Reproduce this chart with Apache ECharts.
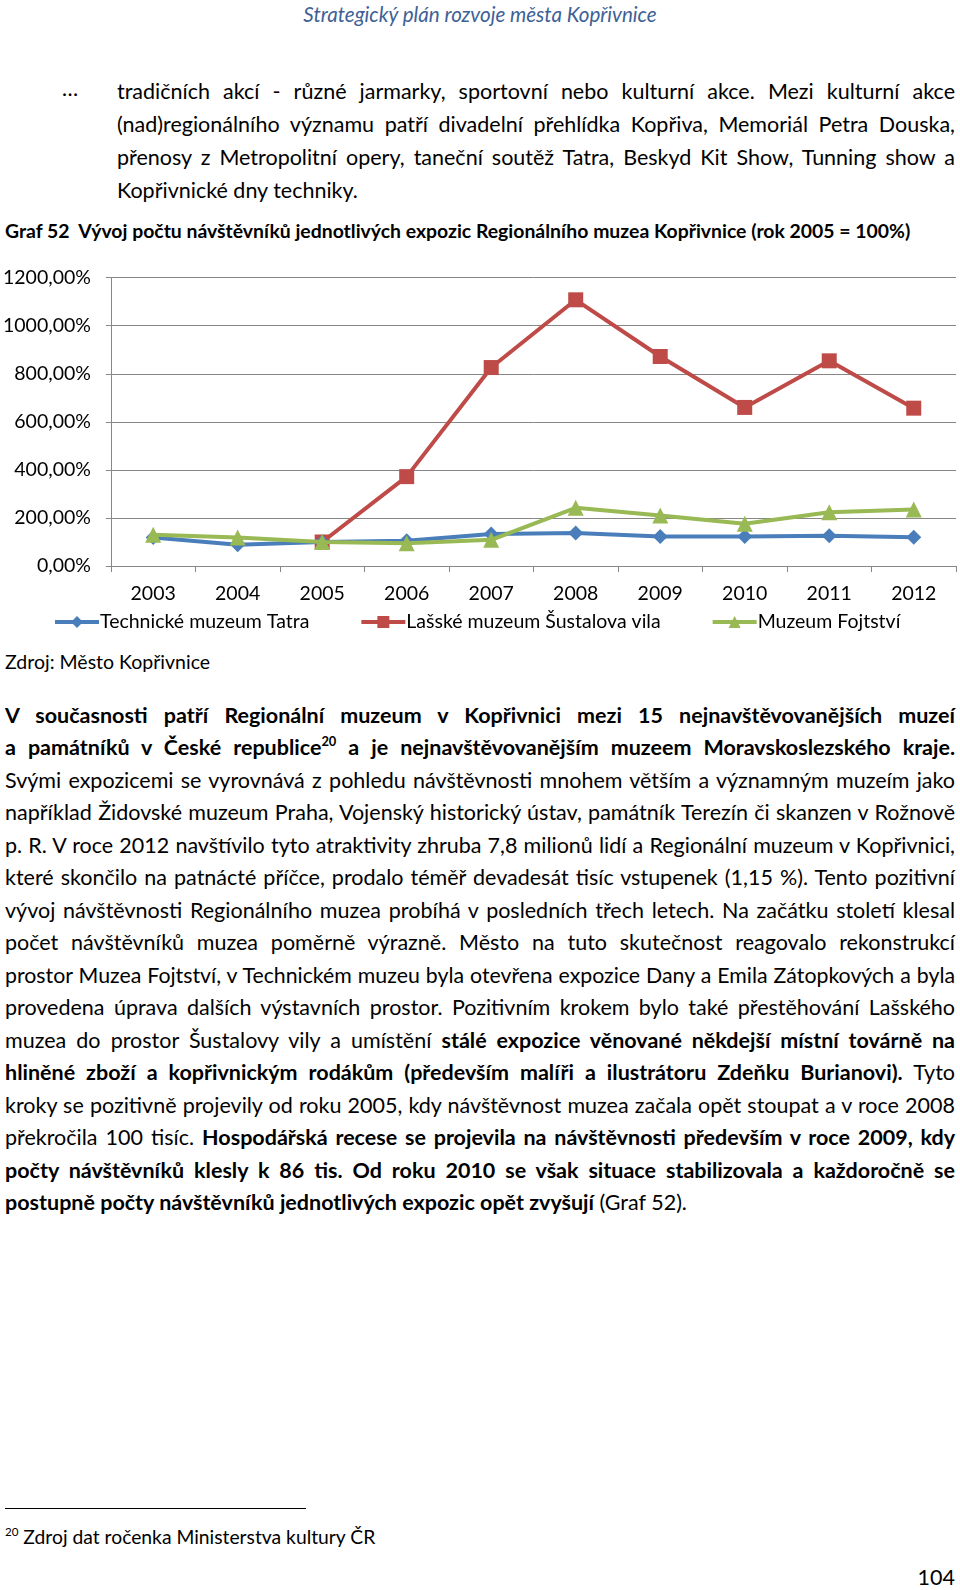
<!DOCTYPE html>
<html><head><meta charset="utf-8">
<script src="https://cdn.jsdelivr.net/npm/echarts@6/dist/echarts.min.js"></script>
<style>
html,body{margin:0;padding:0;background:#fff;}
body{width:960px;height:1590px;position:relative;overflow:hidden;font-family:Lato,"Noto Sans",sans-serif;color:#000;}
.ln{position:absolute;left:5px;width:950px;line-height:32px;font-size:21.5px;text-align:justify;text-align-last:justify;}
.ln.last{text-align:left;text-align-last:left;}
.ln b{font-weight:700;}
.abs{position:absolute;white-space:nowrap;}
sup{font-size:0.6em;line-height:0;vertical-align:0.7em;}
#chart{position:absolute;left:0;top:250px;width:960px;height:400px;}
</style></head>
<body>
<div class="abs" id="hdr" style="left:0;width:960px;text-align:center;top:2px;font-size:20.6px;font-style:italic;color:#3d6196;">Strategický plán rozvoje města Kopřivnice</div>
<div class="abs" style="left:62px;top:75px;font-size:21.5px;">…</div>
<div id="p1"></div>
<div class="abs" id="cap" style="left:5px;top:219px;font-size:19.4px;font-weight:700;">Graf 52&nbsp; Vývoj počtu návštěvníků jednotlivých expozic Regionálního muzea Kopřivnice (rok 2005 = 100%)</div>
<div id="chart"></div>
<div class="abs" style="left:5px;top:650px;font-size:19.5px;">Zdroj: Město Kopřivnice</div>
<div id="p2"></div>
<div style="position:absolute;left:5px;top:1508px;width:301px;height:1px;background:#000;"></div>
<div class="abs" style="left:5px;top:1525px;font-size:19.3px;"><sup>20</sup> Zdroj dat ročenka Ministerstva kultury ČR</div>
<div class="abs" style="left:900px;width:55px;text-align:right;top:1564px;font-size:21.5px;">104</div>
<script>
// ---- chart data ----
const years = ['2003','2004','2005','2006','2007','2008','2009','2010','2011','2012'];
const tatra = [119, 88, 100, 105, 133, 137, 123, 123, 126, 120];
const lasske = [null, null, 100, 372, 826, 1108, 872, 660, 854, 657];
const fojtstvi = [130, 119, 100, 95, 109, 242, 210, 176, 224, 235];
const seriesNames = ['Technické muzeum Tatra', 'Lašské muzeum Šustalova vila', 'Muzeum Fojtství'];
const yMin = 0, yMax = 1200, yStep = 200;

// ---- text ----
const para1 = [
  'tradičních akcí - různé jarmarky, sportovní nebo kulturní akce. Mezi kulturní akce',
  '(nad)regionálního významu patří divadelní přehlídka Kopřiva, Memoriál Petra Douska,',
  'přenosy z Metropolitní opery, taneční soutěž Tatra, Beskyd Kit Show, Tunning show a',
  'Kopřivnické dny techniky.'
];
const para2 = [
  '<b>V současnosti patří Regionální muzeum v Kopřivnici mezi 15 nejnavštěvovanějších muzeí</b>',
  '<b>a památníků v České republice<sup>20</sup> a je nejnavštěvovanějším muzeem Moravskoslezského kraje.</b>',
  'Svými expozicemi se vyrovnává z pohledu návštěvnosti mnohem větším a významným muzeím jako',
  'například Židovské muzeum Praha, Vojenský historický ústav, památník Terezín či skanzen v Rožnově',
  'p. R. V roce 2012 navštívilo tyto atraktivity zhruba 7,8 milionů lidí a Regionální muzeum v Kopřivnici,',
  'které skončilo na patnácté příčce, prodalo téměř devadesát tisíc vstupenek (1,15 %). Tento pozitivní',
  'vývoj návštěvnosti Regionálního muzea probíhá v posledních třech letech. Na začátku století klesal',
  'počet návštěvníků muzea poměrně výrazně. Město na tuto skutečnost reagovalo rekonstrukcí',
  'prostor Muzea Fojtství, v Technickém muzeu byla otevřena expozice Dany a Emila Zátopkových a byla',
  'provedena úprava dalších výstavních prostor. Pozitivním krokem bylo také přestěhování Lašského',
  'muzea do prostor Šustalovy vily a umístění <b>stálé expozice věnované někdejší místní továrně na</b>',
  '<b>hliněné zboží a kopřivnickým rodákům (především malíři a ilustrátoru Zdeňku Burianovi).</b> Tyto',
  'kroky se pozitivně projevily od roku 2005, kdy návštěvnost muzea začala opět stoupat a v roce 2008',
  'překročila 100 tisíc. <b>Hospodářská recese se projevila na návštěvnosti především v roce 2009, kdy</b>',
  '<b>počty návštěvníků klesly k 86 tis. Od roku 2010 se však situace stabilizovala a každoročně se</b>',
  '<b>postupně počty návštěvníků jednotlivých expozic opět zvyšují</b> (Graf 52).'
];

function buildPara(host, lines, left, width, firstCenter, step) {
  lines.forEach((t, i) => {
    const d = document.createElement('div');
    d.className = 'ln' + (i === lines.length - 1 ? ' last' : '');
    d.style.left = left + 'px';
    d.style.width = width + 'px';
    d.style.top = (firstCenter + i * step - 16) + 'px';
    d.innerHTML = t;
    host.appendChild(d);
  });
}
buildPara(document.getElementById('p1'), para1, 117, 838, 91.2, 32.8);
buildPara(document.getElementById('p2'), para2, 5, 950, 714.7, 32.5);

function fitLines() {
  document.querySelectorAll('.ln').forEach(el => {
    let fs = parseFloat(getComputedStyle(el).fontSize);
    let guard = 0;
    while (el.offsetHeight > 40 && guard < 60) {
      fs -= 0.2; el.style.fontSize = fs + 'px'; guard++;
    }
  });
}

function drawChart() {
  const chart = echarts.init(document.getElementById('chart'), null, {renderer: 'canvas'});
  const font = 'Lato';
  const gridC = '#878787';
  chart.setOption({
    animation: false,
    textStyle: {fontFamily: font},
    grid: {left: 110, right: 4, top: 27.7, bottom: 84, containLabel: false},
    legend: {
      data: seriesNames, left: 53, top: 362, padding: 0, itemGap: 50, itemWidth: 44, itemHeight: 15,
      lineStyle: {width: 4},
      textStyle: {fontSize: 19.5, color: '#000', fontFamily: font, padding: [0, 0, 0, -4]}
    },
    xAxis: {
      type: 'category', data: years, boundaryGap: true,
      axisLine: {lineStyle: {color: gridC, width: 1}},
      axisTick: {show: true, length: 6, alignWithLabel: false, lineStyle: {color: gridC}},
      axisLabel: {color: '#000', fontSize: 19.5, margin: 18, fontFamily: font}
    },
    yAxis: {
      type: 'value', min: yMin, max: yMax, interval: yStep,
      axisLine: {show: true, lineStyle: {color: gridC, width: 1}},
      axisTick: {show: true, length: 5, lineStyle: {color: gridC}},
      splitLine: {lineStyle: {color: gridC, width: 1}},
      axisLabel: {color: '#000', fontSize: 19.5, margin: 20, fontFamily: font,
        formatter: v => v.toFixed(2).replace('.', ',') + '%'}
    },
    series: [
      {name: seriesNames[0], type: 'line', data: tatra, symbol: 'diamond', symbolSize: 15,
       lineStyle: {width: 4, color: '#4A7EBB'}, itemStyle: {color: '#4A7EBB'}, z: 3},
      {name: seriesNames[1], type: 'line', data: lasske, symbol: 'rect', symbolSize: 15, connectNulls: false,
       lineStyle: {width: 4, color: '#BE4B48'}, itemStyle: {color: '#BE4B48'}, z: 2},
      {name: seriesNames[2], type: 'line', data: fojtstvi, symbol: 'triangle', symbolSize: 16,
       lineStyle: {width: 4, color: '#98B954'}, itemStyle: {color: '#98B954'}, z: 4}
    ]
  });
}

(document.fonts && document.fonts.ready ? document.fonts.ready : Promise.resolve()).then(() => {
  fitLines();
  drawChart();
});
</script>
</body></html>
